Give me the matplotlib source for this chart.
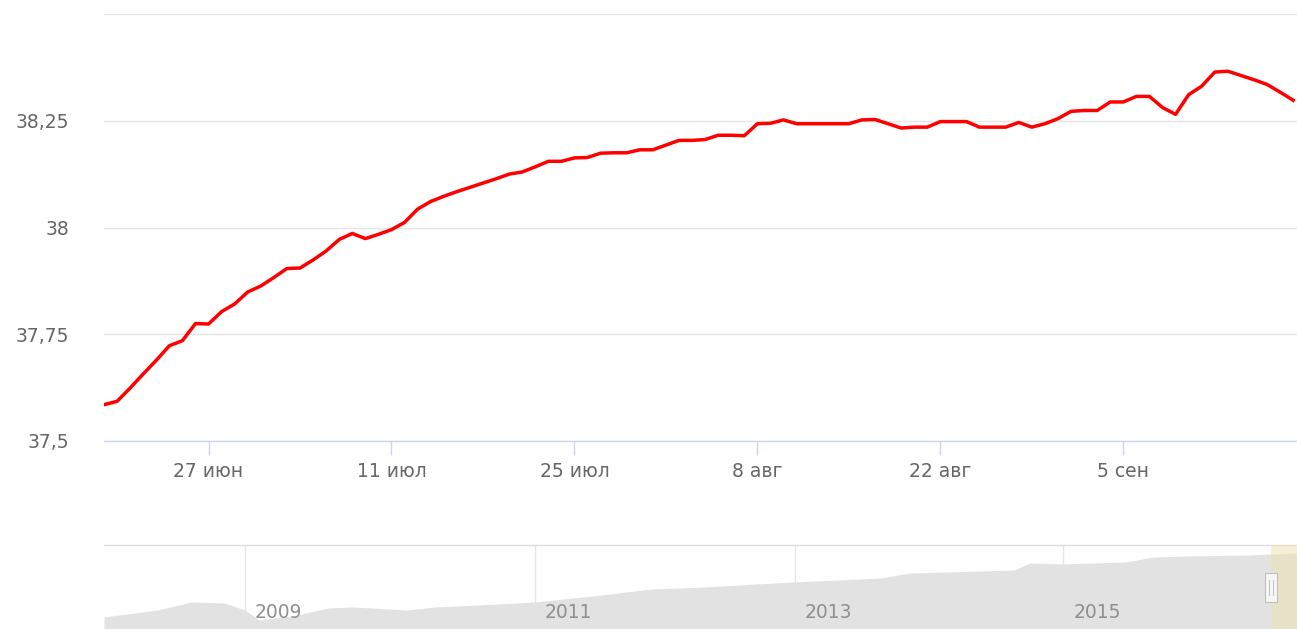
import matplotlib
matplotlib.use("Agg")
import matplotlib.pyplot as plt
import matplotlib.dates as mdates
import matplotlib.transforms as mtransforms
from matplotlib.patches import Rectangle
import numpy as np
import pandas as pd

# ---------------- data ----------------
start_date = "2016-06-19"
rate_values = [
    37.585, 37.593, 37.624, 37.657, 37.689, 37.723, 37.735, 37.775, 37.774, 37.803,
    37.821, 37.849, 37.863, 37.883, 37.904, 37.905, 37.924, 37.945, 37.972, 37.986,
    37.974, 37.984, 37.995, 38.012, 38.043, 38.061, 38.073, 38.084, 38.094, 38.104,
    38.114, 38.125, 38.130, 38.142, 38.155, 38.155, 38.163, 38.164, 38.174, 38.175,
    38.175, 38.182, 38.182, 38.193, 38.204, 38.204, 38.206, 38.216, 38.216, 38.215,
    38.243, 38.244, 38.252, 38.243, 38.243, 38.243, 38.243, 38.243, 38.252, 38.253,
    38.243, 38.233, 38.235, 38.235, 38.248, 38.248, 38.248, 38.235, 38.235, 38.235,
    38.246, 38.235, 38.243, 38.255, 38.272, 38.274, 38.274, 38.294, 38.294, 38.307,
    38.307, 38.281, 38.265, 38.311, 38.331, 38.364, 38.366, 38.356, 38.346, 38.335,
    38.317, 38.298,
]
view_end = "2016-09-18 07:00"

y_ticks = [37.5, 37.75, 38.0, 38.25, 38.5]
y_tick_labels = ["37,5", "37,75", "38", "38,25", ""]

x_tick_dates = ["2016-06-27", "2016-07-11", "2016-07-25", "2016-08-08", "2016-08-22", "2016-09-05"]
x_tick_labels = ["27 июн", "11 июл", "25 июл", "8 авг", "22 авг", "5 сен"]

# navigator (ordinal axis, position in % of history)
nav_pos = [0, 4.5, 7.3, 10.1, 11.8, 13.0, 16.0, 18.8, 20.9, 25.4, 27.8, 33.0, 36.1,
           41.7, 45.9, 50.3, 54.7, 57.9, 65.1, 67.6, 76.3, 77.6, 80.4, 85.6, 88.0,
           90.8, 96.0, 100]
nav_vals = [14.3, 22.6, 32.1, 31.0, 22.6, 10.7, 16.0, 25.0, 26.2, 22.6, 26.2, 29.8, 32.1,
            40.5, 47.6, 50.0, 53.6, 56.0, 60.7, 66.7, 70.2, 78.6, 77.4, 79.8, 85.7,
            86.9, 88.1, 90.5]
nav_years = ["2009", "2011", "2013", "2015"]
nav_year_pos = [11.8, 36.1, 57.9, 80.4]
nav_selected = [97.8, 100]

# ---------------- figure ----------------
W, H = 1297, 629
fig = plt.figure(figsize=(W / 100, H / 100), dpi=100)
fig.patch.set_facecolor("white")

label_color = "#666666"
grid_color = "#e6e6e6"
axis_color = "#ccd6eb"
fs = 13.5

ax = fig.add_axes([104 / W, 1 - 441 / H, 1193 / W, 427 / H])
dates = pd.date_range(start_date, periods=len(rate_values), freq="D")
ax.plot(dates, rate_values, color="#ff0000", lw=2.5, solid_joinstyle="round", zorder=3)
ax.set_xlim(pd.Timestamp(start_date), pd.Timestamp(view_end))
ax.set_ylim(y_ticks[0], y_ticks[-1])

ax.set_yticks(y_ticks)
ax.set_yticklabels(y_tick_labels)
ax.set_xticks(pd.to_datetime(x_tick_dates))
ax.set_xticklabels(x_tick_labels)

for s in ["top", "right", "left"]:
    ax.spines[s].set_visible(False)
ax.spines["bottom"].set_color(axis_color)
ax.spines["bottom"].set_linewidth(1.0)
ax.grid(axis="y", color=grid_color, lw=1.0)
ax.set_axisbelow(True)
ax.tick_params(axis="y", length=0, pad=25, labelsize=fs, labelcolor=label_color)
ax.tick_params(axis="x", length=10, width=1.0, color=axis_color, pad=5,
               labelsize=fs, labelcolor=label_color)
ax.set_facecolor("white")

# ---------------- navigator ----------------
nav = fig.add_axes([104 / W, 0, 1193 / W, 84 / H])
nav.set_xlim(0, 100)
nav.set_ylim(0, 100)
nav.fill_between(nav_pos, nav_vals, 0, color="#e2e2e2", lw=0, zorder=2)
for p in nav_year_pos:
    nav.axvline(p, color=grid_color, lw=1.0, zorder=1)
for s in ["bottom", "right", "left"]:
    nav.spines[s].set_visible(False)
nav.spines["top"].set_color("#dcdcdc")
nav.spines["top"].set_linewidth(1.0)
nav.set_xticks([])
nav.set_yticks([])

blend = mtransforms.blended_transform_factory(nav.transData, nav.transAxes)
offset = mtransforms.ScaledTranslation(10 / 100, 0, fig.dpi_scale_trans)
for yr, p in zip(nav_years, nav_year_pos):
    nav.text(p, 0.2, yr, transform=blend + offset, ha="left", va="center",
             color="#8f8f8f", fontsize=fs, zorder=4)

nav.axvspan(nav_selected[0], nav_selected[1], color="#efe2b0", alpha=0.5, lw=0, zorder=3)
hx = nav_selected[0]
nav.add_patch(Rectangle((hx - 0.5, 0.32), 1.0, 0.35, transform=blend,
                        facecolor="#f7f7f7", edgecolor="#c0c0c0", lw=0.8, zorder=5))
for dx in (-0.15, 0.15):
    nav.plot([hx + dx, hx + dx], [0.41, 0.58], transform=blend, color="#c0c0c0",
             lw=0.7, zorder=6)

fig.savefig("out.png", dpi=100, facecolor="white")
